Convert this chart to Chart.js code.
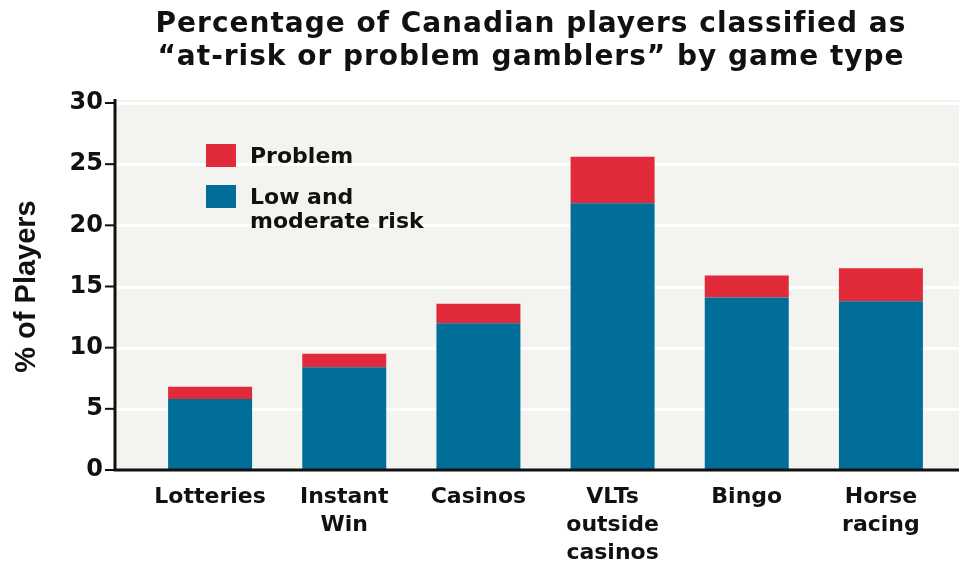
<!DOCTYPE html>
<html>
<head>
<meta charset="utf-8">
<script src="https://cdn.jsdelivr.net/npm/chart.js@4.4.0/dist/chart.umd.min.js"></script>
<style>
    html, body { margin: 0; padding: 0; background: #ffffff; }
    #grafico { display: block; }
</style>
</head>
<body>
<canvas id="grafico" width="959" height="563"></canvas>
<script>
// datos del gráfico
const categorias = ['Lotteries', ['Instant', 'Win'], 'Casinos', ['VLTs', 'outside', 'casinos'], 'Bingo', ['Horse', 'racing']];
const riesgoBajoModerado = [5.8, 8.4, 12.0, 21.8, 14.1, 13.8];
const problema = [1.0, 1.1, 1.6, 3.8, 1.8, 2.7];
const marcasY = [0, 5, 10, 15, 20, 25, 30];
const tituloLineas = ['Percentage of Canadian players classified as', '\u201Cat-risk or problem gamblers\u201D by game type'];
const leyenda = [
    { texto: ['Problem'], color: '#e22b3a' },
    { texto: ['Low and', 'moderate risk'], color: '#006e98' }
];

const fuente = '"DejaVu Sans", Verdana, sans-serif';
const fuenteEje = '"Liberation Sans", Arial, sans-serif';
const EJE_X = 115;

// fondo gris, rejilla blanca, ejes negros, título y leyenda
const decoracion = {
    id: 'decoracion',
    beforeDatasetsDraw(chart) {
        const ctx = chart.ctx;
        const area = chart.chartArea;
        const y = chart.scales.y;
        ctx.save();
        ctx.fillStyle = '#f3f3ef';
        ctx.fillRect(EJE_X, area.top - 3, chart.width - EJE_X, area.bottom - area.top + 3);
        ctx.strokeStyle = '#ffffff';
        ctx.lineWidth = 3;
        marcasY.forEach(v => {
            if (v === 0) return;
            const py = Math.round(y.getPixelForValue(v)) + 0.5;
            ctx.beginPath();
            ctx.moveTo(EJE_X, py);
            ctx.lineTo(chart.width, py);
            ctx.stroke();
        });
        ctx.restore();
    },
    afterDatasetsDraw(chart) {
        const ctx = chart.ctx;
        const area = chart.chartArea;
        const y = chart.scales.y;
        ctx.save();
        ctx.strokeStyle = '#111111';
        ctx.lineWidth = 3;
        ctx.beginPath();
        ctx.moveTo(EJE_X, area.top - 4);
        ctx.lineTo(EJE_X, area.bottom);
        ctx.lineTo(chart.width, area.bottom);
        ctx.stroke();
        ctx.lineWidth = 2;
        marcasY.forEach(v => {
            const py = y.getPixelForValue(v);
            ctx.beginPath();
            ctx.moveTo(EJE_X - 10, py);
            ctx.lineTo(EJE_X, py);
            ctx.stroke();
        });

        // título
        ctx.fillStyle = '#111111';
        ctx.textAlign = 'center';
        ctx.textBaseline = 'alphabetic';
        ctx.font = 'bold 28px ' + fuente;
        ctx.letterSpacing = '1px';
        tituloLineas.forEach((linea, i) => {
            ctx.fillText(linea, 531, 32 + i * 33);
        });
        ctx.letterSpacing = '0px';

        // leyenda
        ctx.textAlign = 'left';
        ctx.font = 'bold 22px ' + fuente;
        let py = 144;
        leyenda.forEach(item => {
            ctx.fillStyle = item.color;
            ctx.fillRect(206, py, 30, 23);
            ctx.fillStyle = '#111111';
            item.texto.forEach((t, j) => {
                ctx.fillText(t, 250, py + 19 + j * 24);
            });
            py += 41;
        });
        ctx.restore();
    }
};

new Chart(document.getElementById('grafico'), {
    type: 'bar',
    data: {
        labels: categorias,
        datasets: [
            {
                label: 'Low and moderate risk',
                data: riesgoBajoModerado,
                backgroundColor: '#006e98',
                barPercentage: 0.626,
                categoryPercentage: 1
            },
            {
                label: 'Problem',
                data: problema,
                backgroundColor: '#e22b3a',
                barPercentage: 0.626,
                categoryPercentage: 1
            }
        ]
    },
    options: {
        responsive: false,
        animation: false,
        layout: {
            padding: { top: 103, right: 11, left: 10, bottom: 0 }
        },
        plugins: {
            legend: { display: false },
            title: { display: false },
            tooltip: { enabled: false }
        },
        scales: {
            x: {
                stacked: true,
                afterFit(escala) { escala.height = 93; },
                grid: { display: false, drawTicks: false },
                border: { display: false },
                ticks: {
                    color: '#111111',
                    padding: 13,
                    maxRotation: 0,
                    autoSkip: false,
                    font: { family: fuente, size: 22, weight: 'bold', lineHeight: 1.27 }
                }
            },
            y: {
                stacked: true,
                min: 0,
                max: 30,
                afterFit(escala) { escala.width = 133; },
                afterBuildTicks(escala) { escala.ticks = marcasY.map(v => ({ value: v })); },
                grid: { display: false, drawTicks: false },
                border: { display: false },
                ticks: {
                    color: '#111111',
                    padding: 40,
                    font: { family: fuente, size: 24, weight: 'bold' }
                },
                title: {
                    display: true,
                    text: '% of Players',
                    color: '#111111',
                    padding: { top: 0, bottom: 0 },
                    font: { family: fuenteEje, size: 29, weight: 'bold' }
                }
            }
        }
    },
    plugins: [decoracion]
});
</script>
</body>
</html>
